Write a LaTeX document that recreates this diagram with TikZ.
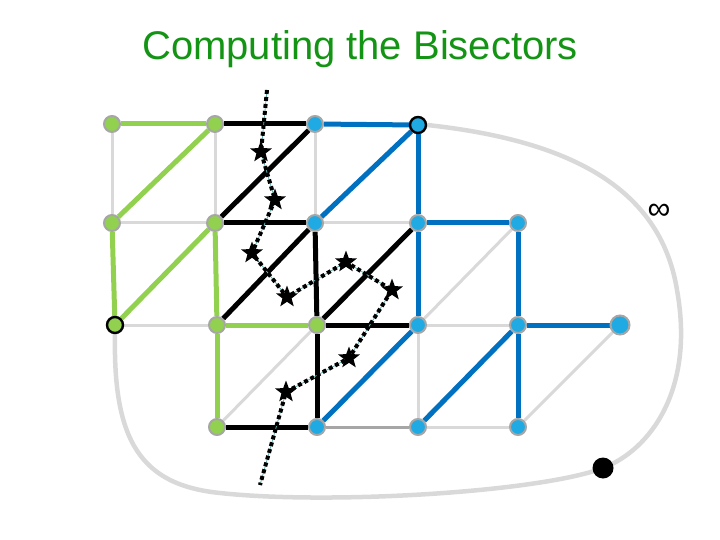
\documentclass[tikz,border=0pt]{standalone}
\usepackage{fontspec}
\setmainfont{Liberation Sans}
\usetikzlibrary{positioning,shapes.geometric,backgrounds}
\definecolor{bsgreen}{HTML}{92D050}
\definecolor{bsgreenD}{HTML}{149414}
\definecolor{bsblue}{HTML}{0070C0}
\definecolor{bsblueL}{HTML}{1FAAE3}
\definecolor{bsgray}{HTML}{D9D9D9}
\definecolor{bsgrayD}{HTML}{A6A6A6}

\begin{document}
\begin{tikzpicture}[
      x=1pt, y=-1pt,
      vtx/.style={circle, draw=bsgrayD, line width=2pt, inner sep=0pt, minimum size=16pt},
      gv/.style={vtx, fill=bsgreen},
      bv/.style={vtx, fill=bsblueL},
      ring/.style={draw=black, line width=2.4pt},
      bis/.style={star, star points=5, star point ratio=2.4, fill=black,
                  inner sep=0pt, minimum size=23pt},
      faint/.style={draw=bsgray, line width=3pt},
      gedge/.style={draw=bsgreen, line width=5pt},
      kedge/.style={draw=black, line width=5pt},
      bedge/.style={draw=bsblue, line width=5pt},
      dots/.style={draw=black, line width=4pt, dash pattern=on 4pt off 3pt,
                   preaction={draw=teal!60, line width=0.8pt, solid}}
    ]
    \useasboundingbox (0,0) rectangle (720,540);

    \node[font=\fontsize{40}{48}\selectfont, text=bsgreenD, anchor=base] (title)
      at (360,60) {Computing the Bisectors};

    % grid vertices
    \node[gv] (v00) at (112,124) {};
    \node[gv] (v01) at (215,124) {};
    \node[bv] (v02) at (315,124) {};
    \node[bv, ring] (v03) at (418,125) {};
    \node[gv] (v10) at (112,223) {};
    \node[gv] (v11) at (215,223) {};
    \node[bv] (v12) at (315,223) {};
    \node[bv] (v13) at (418,223) {};
    \node[bv] (v14) at (518,223) {};
    \node[gv, ring] (v20) at (115,325) {};
    \node[gv] (v21) at (217,325) {};
    \node[gv] (v22) at (317,325) {};
    \node[bv] (v23) at (418,325) {};
    \node[bv] (v24) at (518,325) {};
    \node[bv, minimum size=19pt] (v25) at (620,325) {};
    \node[gv] (v31) at (217,427) {};
    \node[bv] (v32) at (317,427) {};
    \node[bv] (v33) at (418,427) {};
    \node[bv] (v34) at (518,427) {};

    % bisector points
    \node[bis] (s1) at (261,152) {};
    \node[bis] (s2) at (275,200) {};
    \node[bis] (s3) at (252,253) {};
    \node[bis] (s4) at (287,297) {};
    \node[bis] (s5) at (346,262) {};
    \node[bis] (s6) at (392,290) {};
    \node[bis] (s7) at (349,358) {};
    \node[bis] (s8) at (286,392) {};
    \coordinate (top) at (267,90);
    \coordinate (bot) at (260,485);

    \node[circle, fill=black, inner sep=0pt, minimum size=21pt] (far) at (603,468) {};
    \node[font=\fontsize{32}{32}\selectfont] (inf) at (659,212) {∞};

    \begin{scope}[on background layer]
      % outer face
      \draw[faint, line width=4.5pt] (v03.east) .. controls (565,140) and (660,185) .. (677,290)
        .. controls (695,390) and (650,450) .. (far.center)
        .. controls (540,492) and (330,505) .. (220,493)
        .. controls (140,485) and (113,440) .. (v20.south);

      % light edges
      \draw[faint] (v00) -- (v10);
      \draw[faint] (v01) -- (v11);
      \draw[faint] (v02) -- (v12);
      \draw[faint] (v10) -- (v11);
      \draw[faint] (v12) -- (v13);
      \draw[faint] (v20) -- (v21);
      \draw[faint] (v23) -- (v24);
      \draw[faint] (v14) -- (v23);
      \draw[faint] (v22) -- (v31);
      \draw[faint] (v23) -- (v33);
      \draw[faint] (v33) -- (v34);
      \draw[faint] (v25) -- (v34);
      \draw[faint, draw=bsgrayD] (v32) -- (v33);

      % green region
      \draw[gedge] (v00) -- (v01);
      \draw[gedge] (v01) -- (v10);
      \draw[gedge] (v10) -- (v20);
      \draw[gedge] (v11) -- (v20);
      \draw[gedge] (v11) -- (v21);
      \draw[gedge] (v21) -- (v31);
      \draw[gedge] (v21) -- (v22);

      % crossing edges
      \draw[kedge] (v01) -- (v02);
      \draw[kedge] (v11) -- (v02);
      \draw[kedge] (v11) -- (v12);
      \draw[kedge] (v21) -- (v12);
      \draw[kedge] (v12) -- (v22);
      \draw[kedge] (v22) -- (v13);
      \draw[kedge] (v22) -- (v23);
      \draw[kedge] (v22) -- (v32);
      \draw[kedge] (v31) -- (v32);

      % blue region
      \draw[bedge] (v02) -- (v03);
      \draw[bedge] (v12) -- (v03);
      \draw[bedge] (v03) -- (v13);
      \draw[bedge] (v13) -- (v14);
      \draw[bedge] (v13) -- (v23);
      \draw[bedge] (v14) -- (v24);
      \draw[bedge] (v24) -- (v25);
      \draw[bedge] (v23) -- (v32);
      \draw[bedge] (v24) -- (v33);
      \draw[bedge] (v24) -- (v34);

      % bisector path
      \draw[dots] (top) -- (s1.center) -- (s2.center) -- (s3.center) -- (s4.center)
        -- (s5.center) -- (s6.center) -- (s7.center) -- (s8.center) -- (bot);
    \end{scope}
  \end{tikzpicture}
\end{document}
